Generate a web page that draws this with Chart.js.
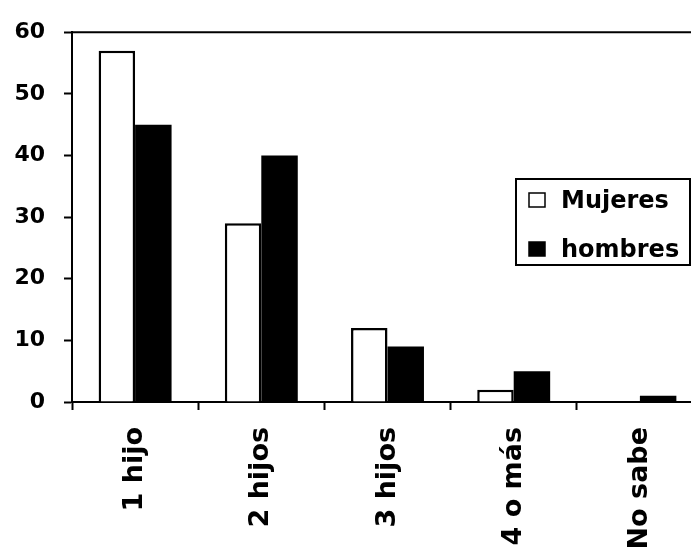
<!DOCTYPE html>
<html>
<head>
<meta charset="utf-8">
<script src="https://cdn.jsdelivr.net/npm/chart.js@4/dist/chart.umd.min.js"></script>
<style>
    html, body { margin: 0; padding: 0; background: #fff; overflow: hidden; }
    #wrap { position: absolute; left: 0; top: 0; width: 704px; height: 551px; }
</style>
</head>
<body>
<div id="wrap"><canvas id="chart"></canvas></div>
<script>
const categories = ["1 hijo", "2 hijos", "3 hijos", "4 o más", "No sabe"];
const mujeres = [57, 29, 12, 2, 0];
const hombres = [45, 40, 9, 5, 1];
const yTicks = [0, 10, 20, 30, 40, 50, 60];

const fontFamily = "'DejaVu Sans', Arial, sans-serif";

// frame top line + boxed legend on the right
const framePlugin = {
    id: "frame",
    afterDraw(chart) {
        const ctx = chart.ctx;
        const area = chart.chartArea;

        ctx.save();
        ctx.strokeStyle = "#000";
        ctx.lineWidth = 2;
        ctx.beginPath();
        ctx.moveTo(area.left, area.top);
        ctx.lineTo(area.right, area.top);
        ctx.stroke();

        // legend box
        const bx = 516, by = 179, bw = 174, bh = 86;
        ctx.fillStyle = "#fff";
        ctx.fillRect(bx, by, bw, bh);
        ctx.lineWidth = 2;
        ctx.strokeRect(bx, by, bw, bh);

        ctx.font = "bold 24px " + fontFamily;
        ctx.textBaseline = "alphabetic";
        ctx.textAlign = "left";

        chart.data.datasets.forEach((ds, i) => {
            const rowY = by + 28 + i * 49;
            ctx.fillStyle = ds.backgroundColor;
            ctx.fillRect(529, rowY - 14, 16, 14);
            ctx.lineWidth = 1.5;
            ctx.strokeStyle = "#000";
            ctx.strokeRect(529, rowY - 14, 16, 14);
            ctx.fillStyle = "#000";
            ctx.fillText(ds.label, 561, rowY + 1);
        });

        ctx.restore();
    }
};

new Chart(document.getElementById("chart"), {
    type: "bar",
    data: {
        labels: categories,
        datasets: [
            {
                label: "Mujeres",
                data: mujeres,
                backgroundColor: "#ffffff",
                borderColor: "#000000",
                borderWidth: 2.5
            },
            {
                label: "hombres",
                data: hombres,
                backgroundColor: "#000000",
                borderColor: "#000000",
                borderWidth: 0
            }
        ]
    },
    options: {
        responsive: true,
        maintainAspectRatio: false,
        animation: false,
        devicePixelRatio: 1,
        layout: {
            padding: { left: 0, top: 26, right: 1, bottom: 0 }
        },
        datasets: {
            bar: {
                categoryPercentage: 0.578,
                barPercentage: 1
            }
        },
        plugins: {
            legend: { display: false },
            tooltip: { enabled: false }
        },
        scales: {
            x: {
                grid: {
                    display: true,
                    drawOnChartArea: false,
                    drawTicks: true,
                    tickLength: 8,
                    tickWidth: 2,
                    tickColor: "#000",
                    offset: true
                },
                border: { display: true, color: "#000", width: 2 },
                ticks: {
                    color: "#000",
                    minRotation: 90,
                    maxRotation: 90,
                    padding: 17,
                    autoSkip: false,
                    font: { family: fontFamily, size: 27, weight: "bold" }
                },
                afterFit(scale) {
                    scale.height = 149;
                }
            },
            y: {
                min: 0,
                max: 60,
                afterBuildTicks(scale) {
                    scale.ticks = yTicks.map(v => ({ value: v }));
                },
                grid: {
                    display: true,
                    drawOnChartArea: false,
                    drawTicks: true,
                    tickLength: 8,
                    tickWidth: 2,
                    tickColor: "#000"
                },
                border: { display: true, color: "#000", width: 2 },
                ticks: {
                    color: "#000",
                    padding: 19,
                    font: { family: fontFamily, size: 22, weight: "bold" }
                },
                afterFit(scale) {
                    scale.width = 72;
                }
            }
        }
    },
    plugins: [framePlugin]
});
</script>
</body>
</html>
